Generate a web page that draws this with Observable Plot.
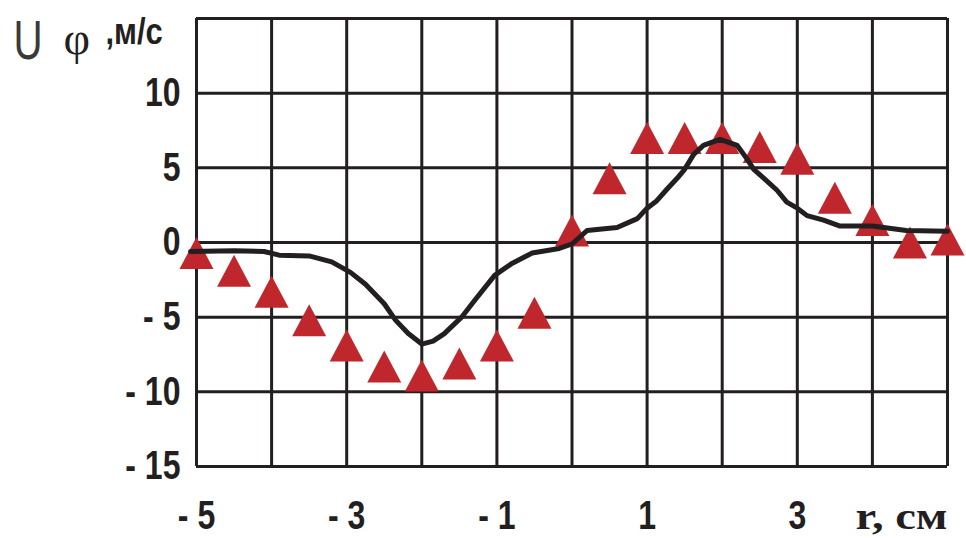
<!DOCTYPE html>
<html>
<head>
<meta charset="utf-8">
<script src="https://cdn.jsdelivr.net/npm/d3@7"></script>
<script src="https://cdn.jsdelivr.net/npm/@observablehq/plot@0.6"></script>
<style>
  html, body { margin: 0; padding: 0; background: #fff; }
  #chart { width: 966px; height: 538px; }
</style>
</head>
<body>
<div id="chart"></div>
<script>
// Measured triangles (experiment)
const triX = [-5, -4.5, -4, -3.5, -3, -2.5, -2, -1.5, -1, -0.5, 0, 0.5, 1, 1.5, 2, 2.5, 3, 3.5, 4, 4.5, 5];
const triY = [-0.7, -1.9, -3.3, -5.2, -6.9, -8.3, -8.9, -8.1, -6.9, -4.7, 0.8, 4.3, 7.0, 7.0, 7.0, 6.4, 5.6, 3.0, 1.5, 0.0, 0.2];

// Calculated curve (black line)
const lineX = [-5.08, -4.5, -4.1, -3.9, -3.5, -3.2, -2.95, -2.75, -2.5, -2.35, -2.18, -2.0, -1.85, -1.7, -1.47, -1.3, -1.03, -0.8, -0.53, -0.17, 0.0, 0.2, 0.6, 0.87, 1.0, 1.13, 1.27, 1.4, 1.5, 1.62, 1.75, 1.97, 2.2, 2.33, 2.42, 2.6, 2.73, 2.86, 3.0, 3.13, 3.35, 3.57, 4.0, 4.45, 5.0];
const lineY = [-0.6, -0.55, -0.6, -0.85, -0.9, -1.3, -2.0, -2.8, -4.1, -5.2, -6.1, -6.8, -6.6, -6.1, -5.0, -3.9, -2.2, -1.4, -0.7, -0.4, -0.1, 0.8, 1.0, 1.6, 2.3, 2.8, 3.6, 4.3, 4.9, 5.9, 6.5, 6.9, 6.5, 5.6, 4.9, 4.1, 3.5, 2.7, 2.3, 1.8, 1.5, 1.1, 1.1, 0.8, 0.75];

// Axes
const xGrid = [-5, -4, -3, -2, -1, 0, 1, 2, 3, 4, 5];
const yGrid = [-15, -10, -5, 0, 5, 10, 15];
const xTicks = [-5, -3, -1, 1, 3];
const yTicks = [-15, -10, -5, 0, 5, 10];
const yTitleMain = "U";
const yTitleSym = "φ";
const yTitleUnit = ",м/с";
const xTitle = "r, см";

const tri = triX.map((x, i) => ({x, y: triY[i]}));
const curve = lineX.map((x, i) => ({x, y: lineY[i]}));

const ink = "#231f20";
const red = "#c0272d";
const sans = "'Liberation Sans', Arial, sans-serif";
const serif = "'Liberation Serif', 'Times New Roman', serif";
const signed = d => d < 0 ? "- " + (-d) : String(d);

// triangle marker centred on its bounding box (like the original chart's markers)
const boxTriangle = {
  draw(context, size) {
    const s = Math.sqrt(size / Math.PI) / 12;   // r = 12 -> scale 1
    const hw = 17 * s, hh = 16 * s;
    context.moveTo(0, -hh);
    context.lineTo(hw, hh);
    context.lineTo(-hw, hh);
    context.closePath();
  }
};

const chart = Plot.plot({
  width: 966,
  height: 538,
  marginLeft: 196,
  marginRight: 19,
  marginTop: 18,
  marginBottom: 72,
  style: {background: "#fff", color: ink, overflow: "visible"},
  x: {domain: [-5, 5], label: null},
  y: {domain: [-15, 15], label: null},
  marks: [
    Plot.ruleX(xGrid, {stroke: ink, strokeWidth: 3}),
    Plot.ruleY(yGrid, {stroke: ink, strokeWidth: 3}),
    Plot.axisY({ticks: yTicks, tickFormat: signed, tickSize: 0, tickPadding: 16,
      fontSize: 40, fontWeight: "bold", fontFamily: sans, fill: ink, label: null}),
    Plot.axisX({ticks: xTicks, tickFormat: signed, tickSize: 0, tickPadding: 34,
      fontSize: 40, fontWeight: "bold", fontFamily: sans, fill: ink, label: null}),
    Plot.dot(tri, {x: "x", y: "y", symbol: boxTriangle, r: 12, fill: red, stroke: "none"}),
    Plot.line(curve, {x: "x", y: "y", stroke: ink, strokeWidth: 5, clip: false}),
    Plot.text([yTitleMain], {frameAnchor: "top-left", dx: -183, dy: 40, textAnchor: "start", lineAnchor: "bottom",
      fontSize: 56, fontFamily: sans, fontWeight: "normal", fill: "#3a3a3a"}),
    Plot.text([yTitleSym], {frameAnchor: "top-left", dx: -133, dy: 35, textAnchor: "start", lineAnchor: "bottom",
      fontSize: 46, fontFamily: serif, fill: ink}),
    Plot.text([yTitleUnit], {frameAnchor: "top-left", dx: -91, dy: 25, textAnchor: "start", lineAnchor: "bottom",
      fontSize: 36, fontWeight: "bold", fontFamily: sans, fill: ink}),
    Plot.text([xTitle], {frameAnchor: "bottom-right", dx: 0, dy: 62, textAnchor: "end", lineAnchor: "bottom",
      fontSize: 38, fontWeight: "bold", fontFamily: serif, fill: ink})
  ]
});
document.getElementById("chart").append(chart);

// narrow the bold sans labels like the original condensed face
function squeeze(el, k) {
  const len = el.getComputedTextLength();
  el.setAttribute("textLength", (len * k).toFixed(1));
  el.setAttribute("lengthAdjust", "spacingAndGlyphs");
}
chart.querySelectorAll('g[aria-label="y-axis tick label"] text, g[aria-label="x-axis tick label"] text')
  .forEach(t => squeeze(t, 0.8));
const titles = chart.querySelectorAll('g[aria-label="text"] text');
if (titles.length >= 4) {
  squeeze(titles[0], 0.72);
  squeeze(titles[2], 0.86);
  const t = titles[3];
  t.setAttribute("textLength", "92");
  t.setAttribute("lengthAdjust", "spacingAndGlyphs");
}
</script>
</body>
</html>
